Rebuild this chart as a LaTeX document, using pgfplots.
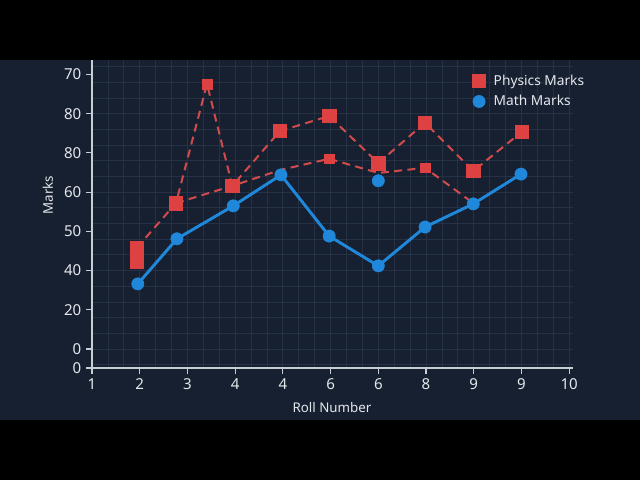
\documentclass[border=0pt]{standalone}
\usepackage{fontspec}
\setmainfont{Noto Sans}
\usepackage{pgfplots}
\pgfplotsset{compat=1.18}
\definecolor{figbg}{HTML}{172030}
\definecolor{txt}{HTML}{E4E7EC}
\definecolor{linecol}{HTML}{C9CED6}
\definecolor{gridcol}{HTML}{263145}
\definecolor{pcol}{HTML}{DE4141}
\definecolor{pline}{HTML}{D04C4C}
\definecolor{mcol}{HTML}{1F88DA}
\begin{document}
\begin{tikzpicture}
\useasboundingbox (0,0) rectangle (480pt,360pt);
\fill[black] (0,0) rectangle (480pt,360pt);
\fill[figbg] (0,45pt) rectangle (480pt,315pt);
\begin{axis}[
  at={(69pt,84pt)}, anchor=south west,
  scale only axis, width=360.75pt, height=231pt,
  xmin=1, xmax=11.08, ymin=-4.85, ymax=73.7,
  axis lines*=left,
  axis line style={linecol, line width=1.1pt, -},
  xtick={1,...,11},
  xticklabels={1,2,3,4,4,6,6,8,9,9,10},
  ytick={-4.85,0,10,20,30,40,50,60,70},
  yticklabels={0,0,20,40,50,60,80,80,70},
  minor x tick num=2,
  minor ytick={-4,0,...,72},
  tick align=outside, major tick length=4.5pt, minor tick length=0pt,
  tick style={linecol, line width=0.8pt},
  xmajorgrids=true, xminorgrids=true, ymajorgrids=false, yminorgrids=true,
  major grid style={gridcol, line width=0.6pt},
  minor grid style={gridcol, line width=0.6pt},
  ticklabel style={font=\fontsize{11.3}{13}\selectfont, text=txt},
  /pgf/number format/assume math mode=true,
  xlabel={Roll Number}, ylabel={Marks},
  label style={font=\fontsize{10}{12}\selectfont, text=txt},
  xlabel style={at={(axis description cs:0.499,-0.127)}, anchor=center},
  ylabel style={at={(axis description cs:-0.0915,0.562)}, anchor=center},
  legend style={at={(axis description cs:0.782,0.97)}, anchor=north west,
    draw=none, fill=none, text=txt, font=\fontsize{10.3}{12}\selectfont,
    row sep=2pt,
    /tikz/every odd column/.append style={column sep=4pt}},
  legend cell align=left,
  clip marker paths=true,
]
% physics, lower dashed run
\addplot[pline, line width=1.5pt, dash pattern=on 6pt off 4pt, forget plot]
  coordinates {(2.76,37.2)(3.94,41.6)(4.96,45.7)(5.97,48.5)(7.0,44.9)(7.98,46.2)(8.99,37.2)};
% physics, upper dashed run
\addplot[pline, line width=1.5pt, dash pattern=on 6pt off 4pt, forget plot]
  coordinates {(1.94,25.8)(2.76,37.2)(3.41,67.6)(3.94,41.6)(4.94,55.6)(5.97,59.4)(7.0,47.4)(7.98,57.7)(8.99,45.4)(10.01,55.4)};
% math line
\addplot[mcol, line width=2.2pt, forget plot]
  coordinates {(1.96,16.6)(2.78,28.1)(3.96,36.5)(4.96,44.4)(5.97,28.8)(7.0,21.2)(7.98,31.1)(8.99,37.0)(9.99,44.6)};
% markers
\addplot[only marks, mark=square*, mark size=5pt, pcol, mark options={draw=none, fill=pcol}]
  coordinates {(1.94,25.8)(1.94,22.2)(2.76,37.2)(3.94,41.6)(4.94,55.6)(5.97,59.4)(7.0,47.4)(7.98,57.7)(8.99,45.4)(10.01,55.4)};
\addlegendentry{Physics Marks}
\addplot[only marks, mark=*, mark size=4.6pt, mcol, mark options={draw=none, fill=mcol}]
  coordinates {(1.96,16.6)(2.78,28.1)(3.96,36.5)(4.96,44.4)(5.97,28.8)(7.0,21.2)(7.98,31.1)(8.99,37.0)(9.99,44.6)};
\addlegendentry{Math Marks}
\addplot[only marks, mark=square*, mark size=3.7pt, pcol, mark options={draw=none, fill=pcol}, forget plot]
  coordinates {(3.41,67.6)(5.97,48.5)(7.98,46.2)};
\addplot[only marks, mark=*, mark size=4.6pt, mcol, mark options={draw=none, fill=mcol}, forget plot]
  coordinates {(7.0,42.9)};
\end{axis}
\end{tikzpicture}
\end{document}
